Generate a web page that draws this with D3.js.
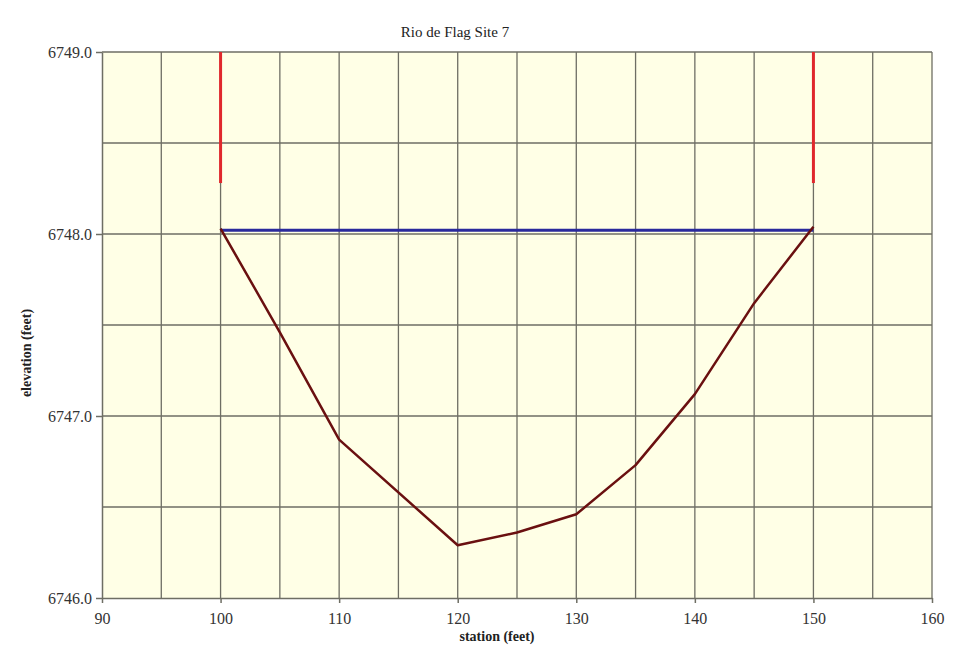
<!DOCTYPE html>
<html>
<head>
<meta charset="utf-8">
<script src="https://cdn.jsdelivr.net/npm/d3@7"></script>
<style>
  body { margin: 0; background: #fff; }
  text { font-family: "Liberation Serif", serif; fill: #222; }
</style>
</head>
<body>
<div id="canvas"></div>
<script>
// cross-section survey
const stations = [100, 105, 110, 120, 125, 130, 135, 140, 145, 150]
const elevations = [6748.03, 6747.46, 6746.87, 6746.29, 6746.36, 6746.46, 6746.73, 6747.12, 6747.62, 6748.04]
const waterStations = [100, 150]
const waterElev = [6748.02, 6748.02]
const bankStations = [100, 150]
const bankTop = 6749.0
const bankBottom = 6748.28
const xTicks = [90, 100, 110, 120, 130, 140, 150, 160]
const yTicks = [6746.0, 6747.0, 6748.0, 6749.0]

const canvas = d3.select("#canvas")
const width = 965
const height = 649
const margin = {top: 52, left: 102, bottom: 51, right: 33}
const iwidth = width - margin.left - margin.right
const iheight = height - margin.top - margin.bottom

const svg = canvas.append("svg").attr("width", width).attr("height", height)

const x = d3.scaleLinear().domain([90, 160]).range([0, iwidth])
const y = d3.scaleLinear().domain([6746, 6749]).range([iheight, 0])

let g = svg.append("g").attr("transform", `translate(${margin.left},${margin.top})`)

g.append("rect")
    .attr("width", iwidth)
    .attr("height", iheight)
    .style("fill", "#ffffe6")

// grid
g.selectAll(".vgrid").data(d3.range(95, 161, 5)).enter().append("line")
    .attr("x1", d => x(d)).attr("x2", d => x(d))
    .attr("y1", 0).attr("y2", iheight)
    .style("stroke", "#6e6e64").style("stroke-width", 1.3)

g.selectAll(".hgrid").data(d3.range(6746.5, 6749.01, 0.5)).enter().append("line")
    .attr("x1", 0).attr("x2", iwidth)
    .attr("y1", d => y(d)).attr("y2", d => y(d))
    .style("stroke", "#6e6e64").style("stroke-width", 1.3)

// axes
const xAxis = g.append("g")
    .attr("transform", `translate(0,${iheight})`)
    .call(d3.axisBottom(x).tickValues(xTicks).tickSize(5).tickSizeOuter(0).tickPadding(10))
const yAxis = g.append("g")
    .call(d3.axisLeft(y).tickValues(yTicks).tickFormat(d3.format(".1f")).tickSize(6).tickSizeOuter(0).tickPadding(4))

svg.selectAll(".domain, .tick line").style("stroke", "#6e6e64").style("stroke-width", 1.5)
svg.selectAll(".tick text").style("font-family", "Liberation Serif, serif").style("font-size", "16px").style("fill", "#333")

// bank markers
g.selectAll(".bank").data(bankStations).enter().append("line")
    .attr("x1", d => x(d)).attr("x2", d => x(d))
    .attr("y1", y(bankTop)).attr("y2", y(bankBottom))
    .style("stroke", "#e0282c").style("stroke-width", 3)

// water surface
const water = waterStations.map((s, i) => [s, waterElev[i]])
g.append("path")
    .datum(water)
    .attr("d", d3.line().x(d => x(d[0])).y(d => y(d[1])))
    .style("fill", "none").style("stroke", "#2a2a9c").style("stroke-width", 3)

// channel profile
const profile = stations.map((s, i) => [s, elevations[i]])
g.append("path")
    .datum(profile)
    .attr("d", d3.line().x(d => x(d[0])).y(d => y(d[1])))
    .style("fill", "none").style("stroke", "#6a1010").style("stroke-width", 2.5)
    .style("stroke-linejoin", "round")

// titles
svg.append("text")
    .attr("x", 455).attr("y", 37)
    .attr("text-anchor", "middle")
    .style("font-size", "15px")
    .text("Rio de Flag Site 7")

svg.append("text")
    .attr("x", 497).attr("y", 641)
    .attr("text-anchor", "middle")
    .style("font-size", "14px").style("font-weight", "bold")
    .text("station (feet)")

svg.append("text")
    .attr("transform", "translate(31,353) rotate(-90)")
    .attr("text-anchor", "middle")
    .style("font-size", "14px").style("font-weight", "bold")
    .text("elevation (feet)")
</script>
</body>
</html>
